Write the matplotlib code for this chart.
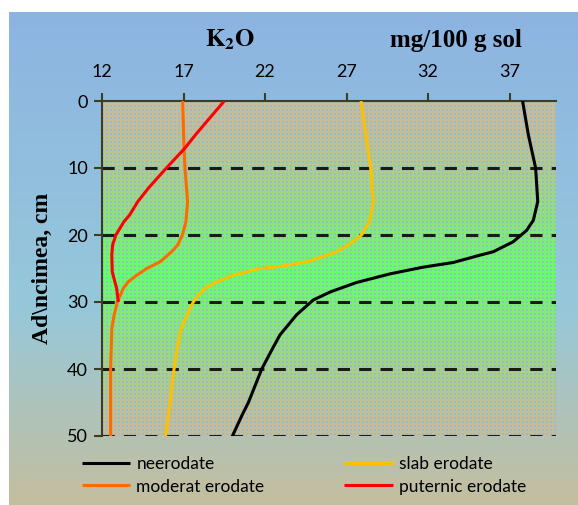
import numpy as np
import matplotlib
matplotlib.use("Agg")
from matplotlib import pyplot as plt

plt.rcParams["mathtext.fontset"] = "stix"

# depth (cm) and K2O (mg/100 g sol)
depth_neerodate = [0, 5, 10, 15, 17.8, 19.3, 21, 22.5, 23, 24.1, 24.8, 25.8, 27.1, 28.5, 29.7, 31.9, 34.9,
                   37, 40, 45, 47, 50]
k2o_neerodate = [37.8, 38.15, 38.6, 38.73, 38.46, 38.05, 37.23, 36.0, 35.2, 33.55, 31.7, 29.67, 27.6, 26.0,
                 24.96, 23.94, 22.92, 22.45, 21.8, 20.98, 20.57, 20.0]

depth_slab = [0, 10, 15, 17.8, 20, 21.7, 22.7, 24, 24.7, 25, 26, 27, 28, 29, 30, 32, 34, 37, 40, 45, 50]
k2o_slab = [27.89, 28.48, 28.65, 28.44, 27.93, 27.0, 26.2, 24.56, 22.9, 21.7, 20.05, 19.03, 18.3, 17.9,
            17.6, 17.2, 16.85, 16.6, 16.42, 16.17, 15.9]

depth_moderat = [0, 7, 10, 15, 18, 20, 21.5, 22.5, 24, 25, 26, 27, 28, 30, 32, 34, 40, 50]
k2o_moderat = [16.95, 17.03, 17.09, 17.25, 17.15, 16.93, 16.64, 16.27, 15.56, 14.74, 14.13, 13.6, 13.3,
               12.94, 12.74, 12.6, 12.53, 12.53]

depth_puternic = [0, 5, 7, 10, 13, 15, 17, 18, 20, 21.5, 23, 25.5, 28, 30]
k2o_puternic = [19.5, 17.75, 17.1, 15.95, 14.85, 14.2, 13.7, 13.35, 12.85, 12.65, 12.6, 12.63, 12.9, 13.0]

series = [
    ("neerodate", depth_neerodate, k2o_neerodate, "black"),
    ("slab erodate", depth_slab, k2o_slab, "#FFC000"),
    ("moderat erodate", depth_moderat, k2o_moderat, "#FF6A00"),
    ("puternic erodate", depth_puternic, k2o_puternic, "#FF0000"),
]
x_ticks = [12, 17, 22, 27, 32, 37]
y_ticks = [0, 10, 20, 30, 40, 50]

W, H = 578, 505
fig = plt.figure(figsize=(W / 100, H / 100), dpi=100)
fig.patch.set_facecolor("white")

# background panel with blue -> pale tan gradient
bg = fig.add_axes([9 / W, 0, 1 - 9 / W, 1 - 12 / H])
bg.set_axis_off()
top = np.array([141, 180, 226]) / 255
mid = np.array([150, 200, 218]) / 255
bot = np.array([196, 190, 158]) / 255
t = np.linspace(0, 1, 200)[:, None]
grad = np.where(t < 0.6, top + (mid - top) * (t / 0.6), mid + (bot - mid) * ((t - 0.6) / 0.4))
bg.imshow(grad[:, None, :].repeat(4, axis=1), aspect="auto", extent=[0, 1, 0, 1], origin="upper")
bg.set_xlim(0, 1)
bg.set_ylim(0, 1)

# plot area: tan -> green -> tan with a small blue dot pattern
ax = fig.add_axes([102 / W, 1 - 436 / H, (556 - 102) / W, (436 - 101) / H])
ph, pw = 335, 454
tan = np.array([196, 189, 151]) / 255
green = np.array([102, 255, 102]) / 255
blue = np.array([141, 180, 226]) / 255
yy = np.linspace(0, 1, ph)[:, None]
w = np.clip(1 - np.abs(yy - 0.52) / 0.45, 0, 1) ** 1.2
col = tan[None, :] + (green - tan)[None, :] * w
img = np.repeat(col[:, None, :], pw, axis=1)
iy, ix = np.mgrid[0:ph, 0:pw]
dots = ((iy // 2) % 2 == 0) & ((ix // 2) % 2 == 0)
img[dots] = img[dots] * 0.35 + blue * 0.65
ax.imshow(img, aspect="auto", extent=[12, 39.85, 50, 0], zorder=0, interpolation="nearest")

for y in y_ticks[1:]:
    ax.axhline(y, color="#1a1a1a", lw=2.2, ls=(0, (4, 3)), zorder=1)

lines = {}
for label, d, v, c in series:
    lines[label], = ax.plot(v, d, color=c, lw=2.2, label=label, zorder=3,
                            solid_joinstyle="round", solid_capstyle="butt")

ax.set_xlim(12, 39.85)
ax.set_ylim(50, 0)
ax.set_xticks(x_ticks)
ax.set_yticks(y_ticks)
ax.xaxis.tick_top()
for s in ["right", "bottom"]:
    ax.spines[s].set_visible(False)
for s in ["top", "left"]:
    ax.spines[s].set_color("#3d3d1f")
    ax.spines[s].set_linewidth(1.5)
ax.tick_params(axis="both", direction="out", length=6, width=1.5, color="#3d3d1f",
               labelsize=13, pad=4)
for lab in ax.get_xticklabels() + ax.get_yticklabels():
    lab.set_family("Lato")
ax.tick_params(axis="x", pad=9)

ax.set_ylabel("Ad\\ncimea, cm", family="Liberation Serif", fontweight="bold", fontsize=17, labelpad=10)

fig.text(230 / W, 1 - 40 / H, r"$\mathbf{K_2O}$", ha="center", va="center", fontsize=18)
fig.text(456 / W, 1 - 40 / H, "mg/100 g sol", family="Liberation Serif", fontweight="bold",
         ha="center", va="center", fontsize=18)

order = ["neerodate", "moderat erodate", "slab erodate", "puternic erodate"]
leg = fig.legend([lines[k] for k in order], order, ncol=2, loc="upper left",
                 bbox_to_anchor=(66 / W, 1 - 440 / H),
                 frameon=False, prop={"family": "Lato", "size": 12.5}, handlelength=2.8,
                 columnspacing=4.6, labelspacing=0.4, handletextpad=0.35)

fig.savefig("out.png", dpi=100)
